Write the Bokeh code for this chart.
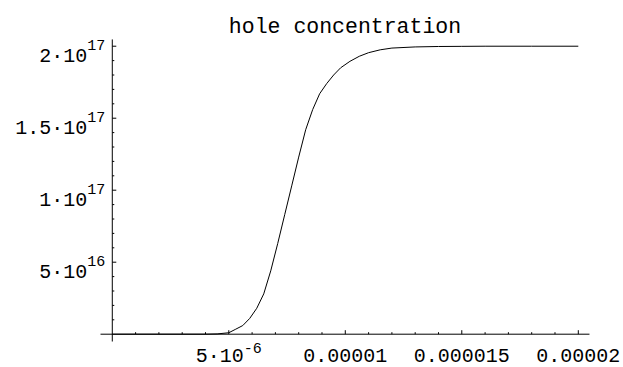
from bokeh.plotting import figure
from bokeh.core.properties import value
from bokeh.embed import file_html
from bokeh.resources import INLINE

# ---- data (x in units of 1e-6, y in units of 1e16) ----
x_micro = [0, 1, 2, 3, 4, 4.5, 5, 5.3, 5.6, 5.9, 6.2, 6.5, 6.8, 7.1, 7.4, 7.7,
           8.0, 8.3, 8.6, 8.9, 9.2, 9.5, 9.8, 10.2, 10.6, 11, 11.5, 12, 13,
           14, 15, 16, 18, 20]
y_e16 = [0, 0, 0, 0, 0, 0.02, 0.1, 0.35, 0.6, 1.1, 1.8, 2.8, 4.4, 6.3, 8.3, 10.3,
         12.3, 14.2, 15.6, 16.7, 17.4, 18.0, 18.5, 18.95, 19.3, 19.55, 19.75,
         19.87, 19.95, 19.98, 19.99, 20, 20, 20]
x_vals = [v * 1e-6 for v in x_micro]
y_vals = [v * 1e16 for v in y_e16]

x_major_ticks = [5e-6, 1e-5, 1.5e-5, 2e-5]
x_minor_ticks = [v * 1e-6 for v in [1, 2, 3, 4, 6, 7, 8, 9, 11, 12, 13, 14, 16, 17, 18, 19]]
y_major_ticks = [5e16, 1e17, 1.5e17, 2e17]
y_minor_ticks = [v * 1e16 for v in [1, 2, 3, 4, 6, 7, 8, 9, 11, 12, 13, 14, 16, 17, 18, 19]]

y_label_main = ["5·10", "1·10", "1.5·10", "2·10"]
y_label_sup = ["16", "17", "17", "17"]
x_label_plain_pos = [1e-5, 1.5e-5, 2e-5]
x_label_plain = ["0.00001", "0.000015", "0.00002"]
x_label_sci_pos = [5e-6]
x_label_sci_main = ["5·10"]
x_label_sci_sup = ["-6"]
title_text = "hole concentration"

# ---- layout constants ----
W, H = 623, 367
X0, X1 = -4.798e-6, 21.94e-6
Y0, Y1 = -2.3125e16, 23.174e16
XA0, XA1 = -0.506e-6, 20.48e-6      # x-axis extent
YA0, YA1 = -0.507e16, 20.47e16      # y-axis extent
FONT = value("Liberation Mono")

p = figure(width=W, height=H, x_range=(X0, X1), y_range=(Y0, Y1),
           min_border=0, toolbar_location=None, output_backend="svg",
           x_axis_location=None, y_axis_location=None)
p.grid.visible = False
p.outline_line_color = None
p.background_fill_color = "white"
p.border_fill_color = "white"

# axes lines
p.segment(x0=[XA0, 0], y0=[0, YA0], x1=[XA1, 0], y1=[0, YA1],
          line_color="black", line_width=1)

# ticks
p.ray(x=x_major_ticks, y=[0] * len(x_major_ticks), length=4, length_units="screen",
      angle=1.5707963, line_color="black", line_width=1)
p.ray(x=x_minor_ticks, y=[0] * len(x_minor_ticks), length=2, length_units="screen",
      angle=1.5707963, line_color="black", line_width=1)
p.ray(x=[0] * len(y_major_ticks), y=y_major_ticks, length=4, length_units="screen",
      angle=0, line_color="black", line_width=1)
p.ray(x=[0] * len(y_minor_ticks), y=y_minor_ticks, length=2, length_units="screen",
      angle=0, line_color="black", line_width=1)

# curve
p.line(x=x_vals, y=y_vals, line_color="black", line_width=1)

# y tick labels
p.text(x=[0] * 4, y=y_major_ticks, text=y_label_main, x_offset=-25, y_offset=10,
       text_align="right", text_baseline="alphabetic", text_font=FONT,
       text_font_size="20px", text_color="black")
p.text(x=[0] * 4, y=y_major_ticks, text=y_label_sup, x_offset=-25, y_offset=-1,
       text_align="left", text_baseline="alphabetic", text_font=FONT,
       text_font_size="15px", text_color="black")

# x tick labels
p.text(x=x_label_plain_pos, y=[0] * 3, text=x_label_plain, x_offset=0, y_offset=21,
       text_align="center", text_baseline="alphabetic", text_font=FONT,
       text_font_size="20px", text_color="black")
p.text(x=x_label_sci_pos, y=[0], text=x_label_sci_main, x_offset=15, y_offset=22,
       text_align="right", text_baseline="alphabetic", text_font=FONT,
       text_font_size="20px", text_color="black")
p.text(x=x_label_sci_pos, y=[0], text=x_label_sci_sup, x_offset=15, y_offset=13.5,
       text_align="left", text_baseline="alphabetic", text_font=FONT,
       text_font_size="15px", text_color="black")

# title
p.text(x=[(XA0 + XA1) / 2], y=[Y1], text=[title_text], y_offset=26,
       text_align="center", text_baseline="alphabetic", text_font=FONT,
       text_font_size="21.5px", text_color="black")

open("out.html", "w").write(file_html(p, INLINE))
